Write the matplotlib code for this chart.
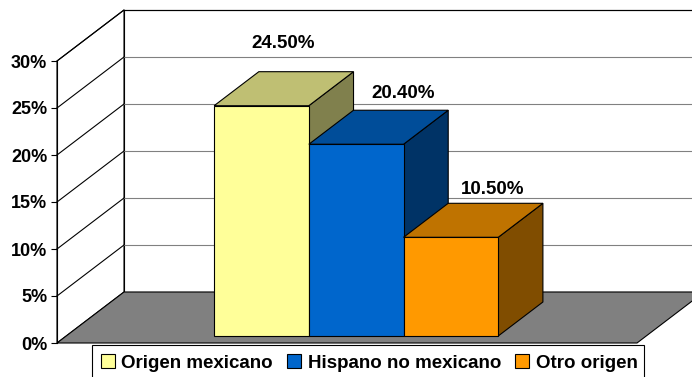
import matplotlib
matplotlib.use('Agg')
import matplotlib.pyplot as plt
from matplotlib.patches import Polygon, Rectangle, Patch
from matplotlib.transforms import IdentityTransform
from matplotlib.ticker import PercentFormatter
import matplotlib.colors as mcolors

# ---- data ----
series = ["Origen mexicano", "Hispano no mexicano", "Otro origen"]
values = [24.5, 20.4, 10.5]
value_labels = ["24.50%", "20.40%", "10.50%"]
front_colors = ["#FFFF99", "#0066CC", "#FF9900"]
yticks = [0, 5, 10, 15, 20, 25, 30]

# ---- style / layout ----
plt.rcParams['font.family'] = ['Liberation Sans', 'DejaVu Sans']
plt.rcParams['font.weight'] = 'bold'
W, H, DPI = 692, 377, 100
DEPTH_PX = (67, 51)          # full depth offset of the 3D box (pixels at 100 dpi)
BAR_D0, BAR_D1 = 0.137, 0.804  # bar depth range as fraction of full depth
BAR_W = 1 / 6.125
LABEL_NUDGE = [(-23, 28), (2, 17), (-2.5, 13.5)]
LW = 0.8

fig = plt.figure(figsize=(W / DPI, H / DPI), dpi=DPI)
fig.patch.set_facecolor('white')
ax = fig.add_axes([57 / W, 34 / H, 580 / W, 282 / H])
ax.set_xlim(-0.5, 0.5)
ax.set_ylim(0, 30)
ax.patch.set_visible(False)
for s_ in ['top', 'right', 'bottom']:
    ax.spines[s_].set_visible(False)
ax.spines['left'].set_linewidth(LW)
ax.spines['left'].set_zorder(2.5)
ax.set_xticks([])
ax.set_yticks(yticks)
ax.yaxis.set_major_formatter(PercentFormatter(decimals=0))
ax.tick_params(axis='y', direction='out', length=4, width=LW, pad=3, labelsize=13)
for lab in ax.get_yticklabels():
    lab.set_fontweight('bold')

s = fig.dpi / 100.0


def P(x, y, d):
    px, py = ax.transData.transform((x, y))
    return (px + DEPTH_PX[0] * d * s, py + DEPTH_PX[1] * d * s)


def poly(pts, fc, ec='black', lw=LW, z=1):
    p = Polygon(pts, closed=True, facecolor=fc, edgecolor=ec, linewidth=lw,
                transform=IdentityTransform(), clip_on=False, zorder=z)
    ax.add_artist(p)


def line(p1, p2, c='black', lw=LW, z=1.5):
    ax.add_artist(plt.Line2D([p1[0], p2[0]], [p1[1], p2[1]], color=c, linewidth=lw,
                             transform=IdentityTransform(), clip_on=False, zorder=z))


x0, x1 = ax.get_xlim()
y0, y1 = ax.get_ylim()

# back wall
poly([P(x0, y0, 1), P(x1, y0, 1), P(x1, y1, 1), P(x0, y1, 1)], 'white', z=1)
# left wall
poly([P(x0, y0, 0), P(x0, y0, 1), P(x0, y1, 1), P(x0, y1, 0)], 'white', z=1)
# gridlines
for v in yticks[1:]:
    c = '#808080' if v < y1 else 'black'
    line(P(x0, v, 1), P(x1, v, 1), c=c, z=1.2)
    line(P(x0, v, 0), P(x0, v, 1), c='black', z=1.2)
# floor
poly([P(x0, y0, 0), P(x1, y0, 0), P(x1, y0, 1), P(x0, y0, 1)], '#808080', z=1.4)

# bars
n = len(values)
for i, (v, c) in enumerate(zip(values, front_colors)):
    cx = (i - (n - 1) / 2) * BAR_W
    xl, xr = cx - BAR_W / 2, cx + BAR_W / 2
    rgb = mcolors.to_rgb(c)
    top = tuple(ch * 0.75 for ch in rgb)
    side = tuple(ch * 0.5 for ch in rgb)
    z = 3 + i
    poly([P(xr, 0, BAR_D0), P(xr, 0, BAR_D1), P(xr, v, BAR_D1), P(xr, v, BAR_D0)], side, z=z)
    poly([P(xl, v, BAR_D0), P(xr, v, BAR_D0), P(xr, v, BAR_D1), P(xl, v, BAR_D1)], top, z=z)
    poly([P(xl, 0, BAR_D0), P(xr, 0, BAR_D0), P(xr, v, BAR_D0), P(xl, v, BAR_D0)], c, z=z)
    lx, ly = P(cx, v, BAR_D1)
    nx, ny = LABEL_NUDGE[i]
    ax.text(lx + nx * s, ly + ny * s, value_labels[i], transform=IdentityTransform(),
            ha='center', va='center', fontsize=13.5, fontweight='bold', zorder=10,
            clip_on=False)

# legend frame
fig.add_artist(Rectangle((92 / W, -5 / H), 552 / W, 37 / H, transform=fig.transFigure,
                         facecolor='white', edgecolor='black', linewidth=LW, zorder=4))
handles = [Patch(facecolor=c, edgecolor='black', linewidth=LW) for c in front_colors]
leg = fig.legend(handles, series, loc='center', bbox_to_anchor=(369 / W, 14 / H), ncol=3,
                 frameon=False, prop={'size': 13.5, 'weight': 'bold'},
                 handlelength=0.75, handleheight=0.75, handletextpad=0.35,
                 columnspacing=0.75, borderpad=0)
leg.set_zorder(6)

fig.savefig('out.png', dpi=DPI)
